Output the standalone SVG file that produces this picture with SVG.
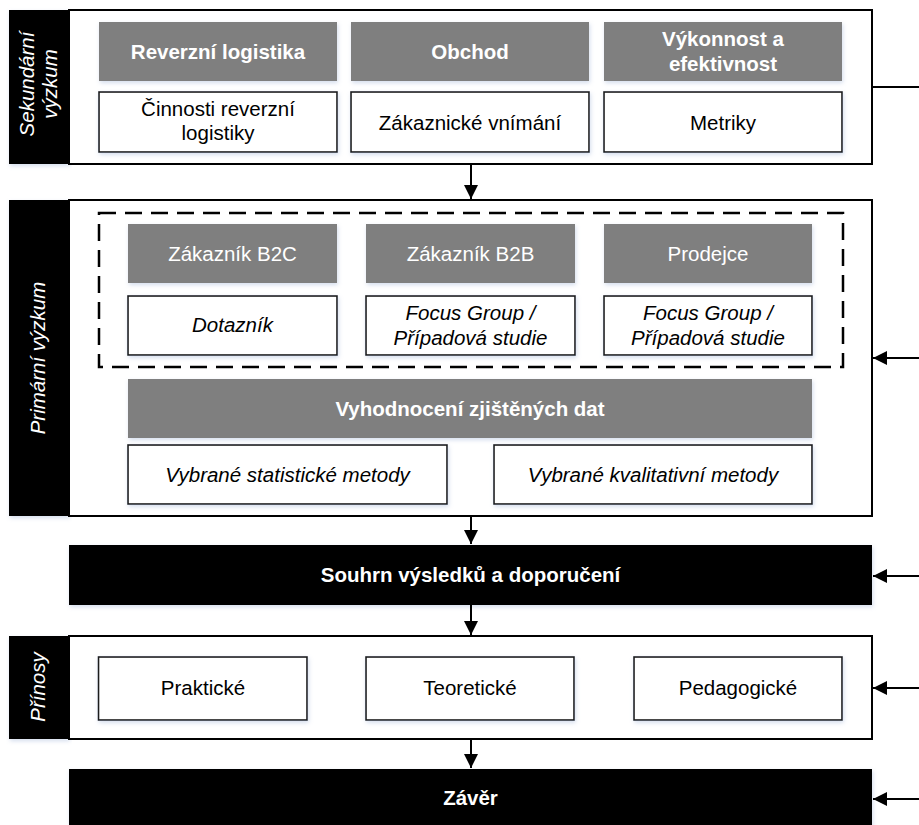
<svg xmlns="http://www.w3.org/2000/svg" width="919" height="825" viewBox="0 0 919 825">
  <defs>
    <filter id="soft" x="-5%" y="-10%" width="110%" height="130%">
      <feDropShadow dx="1" dy="2" stdDeviation="2" flood-color="#9fb4d8" flood-opacity="0.45"/>
    </filter>
    <marker id="head" viewBox="0 0 14 14" refX="14" refY="7" markerWidth="14" markerHeight="14" markerUnits="userSpaceOnUse" orient="auto">
      <path d="M0,0 L14,7 L0,14 Z" fill="#000"/>
    </marker>
  </defs>
  <style>
    text { font-family: "Liberation Sans", Arial, sans-serif; font-size: 20.5px; text-anchor: middle; }
    .frame { fill: #fff; stroke: #000; stroke-width: 2; }
    .bar { fill: #000; filter: url(#soft); }
    .head { fill: #7f7f7f; filter: url(#soft); }
    .cell { fill: #fff; stroke: #1a1a1a; stroke-width: 1.6; filter: url(#soft); }
    .w { fill: #fff; }
    .k { fill: #000; }
    .b { font-weight: bold; }
    .i { font-style: italic; }
    .side { fill: #fff; font-style: italic; }
    .dash { fill: none; stroke: #000; stroke-width: 2.5; stroke-dasharray: 17 9; }
    .link { stroke: #000; stroke-width: 2; fill: none; }
  </style>

  <rect width="919" height="825" fill="#fff"/>

  <!-- Secondary research -->
  <g id="sekundarni">
    <rect class="bar" x="9" y="10" width="60" height="154"/>
    <rect class="frame" x="69" y="10" width="803" height="154"/>
    <text class="side" transform="translate(34,84) rotate(-90)">Sekundární</text>
    <text class="side" transform="translate(57,84) rotate(-90)">výzkum</text>
  </g>
  <g id="reverzni-logistika">
    <rect class="head" x="99" y="22" width="238" height="59"/>
    <text class="w b" x="218" y="58.5">Reverzní logistika</text>
  </g>
  <g id="obchod">
    <rect class="head" x="351" y="22" width="238" height="59"/>
    <text class="w b" x="470" y="58.5">Obchod</text>
  </g>
  <g id="vykonnost">
    <rect class="head" x="604" y="22" width="238" height="59"/>
    <text class="w b" x="723" y="46">Výkonnost a</text>
    <text class="w b" x="723" y="71">efektivnost</text>
  </g>
  <g id="cinnosti">
    <rect class="cell" x="99" y="92" width="238" height="60"/>
    <text class="k" x="218" y="115.5">Činnosti reverzní</text>
    <text class="k" x="218" y="140">logistiky</text>
  </g>
  <g id="vnimani">
    <rect class="cell" x="351" y="92" width="238" height="60"/>
    <text class="k" x="470" y="129.5">Zákaznické vnímání</text>
  </g>
  <g id="metriky">
    <rect class="cell" x="604" y="92" width="238" height="60"/>
    <text class="k" x="723" y="129.5">Metriky</text>
  </g>

  <!-- Primary research -->
  <g id="primarni">
    <rect class="bar" x="9" y="200" width="60" height="316"/>
    <rect class="frame" x="69" y="200" width="803" height="316"/>
    <text class="side" transform="translate(45,358) rotate(-90)">Primární výzkum</text>
    <rect class="dash" x="99" y="213" width="744" height="154"/>
  </g>
  <g id="b2c">
    <rect class="head" x="128" y="224" width="209" height="59"/>
    <text class="w" x="232.5" y="261">Zákazník B2C</text>
  </g>
  <g id="b2b">
    <rect class="head" x="366" y="224" width="209" height="59"/>
    <text class="w" x="470.5" y="261">Zákazník B2B</text>
  </g>
  <g id="prodejce">
    <rect class="head" x="604" y="224" width="208" height="59"/>
    <text class="w" x="708" y="261">Prodejce</text>
  </g>
  <g id="dotaznik">
    <rect class="cell" x="128" y="296" width="209" height="59"/>
    <text class="k i" x="232.5" y="332">Dotazník</text>
  </g>
  <g id="focus-b2b">
    <rect class="cell" x="366" y="296" width="209" height="59"/>
    <text class="k i" x="470.5" y="319.5">Focus Group /</text>
    <text class="k i" x="470.5" y="344.5">Případová studie</text>
  </g>
  <g id="focus-prodejce">
    <rect class="cell" x="604" y="296" width="208" height="59"/>
    <text class="k i" x="708" y="319.5">Focus Group /</text>
    <text class="k i" x="708" y="344.5">Případová studie</text>
  </g>
  <g id="vyhodnoceni">
    <rect class="head" x="128" y="379" width="684" height="59"/>
    <text class="w b" x="470" y="416">Vyhodnocení zjištěných dat</text>
  </g>
  <g id="statisticke">
    <rect class="cell" x="128" y="445" width="319" height="59"/>
    <text class="k i" x="287.5" y="481.5">Vybrané statistické metody</text>
  </g>
  <g id="kvalitativni">
    <rect class="cell" x="494" y="445" width="318" height="59"/>
    <text class="k i" x="653" y="481.5">Vybrané kvalitativní metody</text>
  </g>

  <!-- Summary -->
  <g id="souhrn">
    <rect class="bar" x="69" y="545" width="803" height="60"/>
    <text class="w b" x="470.5" y="582">Souhrn výsledků a doporučení</text>
  </g>

  <!-- Contributions -->
  <g id="prinosy">
    <rect class="bar" x="9" y="636" width="60" height="103"/>
    <rect class="frame" x="69" y="636" width="803" height="103"/>
    <text class="side" transform="translate(45,687) rotate(-90)">Přínosy</text>
  </g>
  <g id="prakticke">
    <rect class="cell" x="98.5" y="657" width="208.5" height="63"/>
    <text class="k" x="203" y="695">Praktické</text>
  </g>
  <g id="teoreticke">
    <rect class="cell" x="366" y="657" width="208" height="63"/>
    <text class="k" x="470" y="695">Teoretické</text>
  </g>
  <g id="pedagogicke">
    <rect class="cell" x="634" y="657" width="208" height="63"/>
    <text class="k" x="738" y="695">Pedagogické</text>
  </g>

  <!-- Conclusion -->
  <g id="zaver">
    <rect class="bar" x="69" y="769" width="803" height="58"/>
    <text class="w b" x="470.5" y="805">Závěr</text>
  </g>

  <!-- Connectors -->
  <g id="connectors">
    <line class="link" x1="471" y1="165" x2="471" y2="199" marker-end="url(#head)"/>
    <line class="link" x1="471" y1="517" x2="471" y2="544" marker-end="url(#head)"/>
    <line class="link" x1="471" y1="605" x2="471" y2="635" marker-end="url(#head)"/>
    <line class="link" x1="471" y1="740" x2="471" y2="768" marker-end="url(#head)"/>
    <line class="link" x1="873" y1="87" x2="919" y2="87"/>
    <line class="link" x1="919" y1="358" x2="873" y2="358" marker-end="url(#head)"/>
    <line class="link" x1="919" y1="576" x2="873" y2="576" marker-end="url(#head)"/>
    <line class="link" x1="919" y1="688" x2="873" y2="688" marker-end="url(#head)"/>
    <line class="link" x1="919" y1="799" x2="873" y2="799" marker-end="url(#head)"/>
  </g>
</svg>
